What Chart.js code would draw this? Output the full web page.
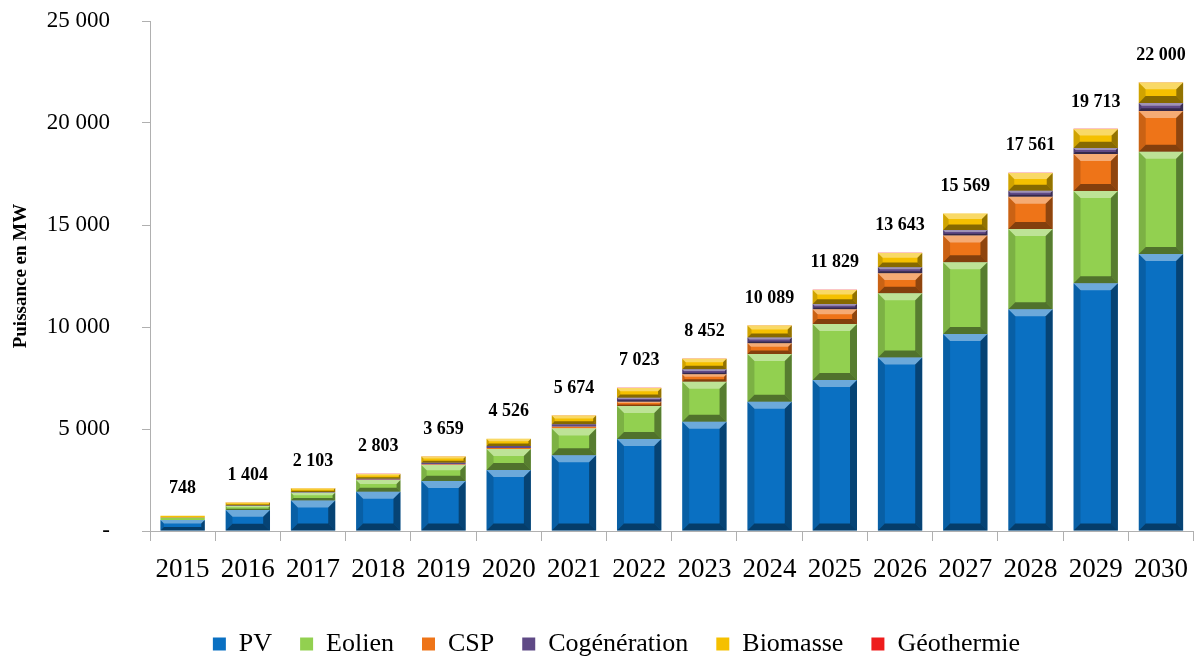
<!DOCTYPE html>
<html>
<head>
<meta charset="utf-8">
<script src="https://cdn.jsdelivr.net/npm/chart.js@4.4.0/dist/chart.umd.min.js"></script>
<style>
  html, body { margin: 0; padding: 0; background: #fff; }
  #wrap { width: 1201px; height: 657px; }
</style>
</head>
<body>
<div id="wrap"><canvas id="myChart" width="1201" height="657"></canvas></div>
<script>
const years = ['2015','2016','2017','2018','2019','2020','2021','2022','2023','2024','2025','2026','2027','2028','2029','2030'];
const pv      = [540, 1030, 1490, 1930, 2450, 2990, 3710, 4510, 5360, 6340, 7400, 8500, 9660, 10870, 12140, 13575];
const eolien  = [100, 200, 390, 570, 790, 1030, 1320, 1620, 1960, 2340, 2750, 3150, 3510, 3930, 4530, 5010];
const csp     = [0, 0, 0, 10, 20, 50, 80, 210, 360, 520, 720, 980, 1310, 1590, 1810, 2000];
const cogen   = [8, 15, 30, 50, 80, 100, 120, 190, 250, 280, 260, 300, 270, 290, 300, 400];
const biomasse = [95, 154, 188, 238, 314, 346, 434, 483, 512, 599, 689, 703, 809, 871, 918, 1000];
const geo     = [5, 5, 5, 5, 5, 10, 10, 10, 10, 10, 10, 10, 10, 10, 15, 15];
const totals  = [748, 1404, 2103, 2803, 3659, 4526, 5674, 7023, 8452, 10089, 11829, 13643, 15569, 17561, 19713, 22000];
const yTicks  = [0, 5000, 10000, 15000, 20000, 25000];

const serif = "'Liberation Serif', 'Times New Roman', serif";

function fmt(v){
  if (v === 0) return '-';
  return String(v).replace(/\B(?=(\d{3})+(?!\d))/g, ' ');
}

// fake the excel bevel look on every bar
const bevel = {
  id: 'bevel',
  afterDatasetsDraw(chart){
    const ctx = chart.ctx;
    chart.data.datasets.forEach((ds, di) => {
      const meta = chart.getDatasetMeta(di);
      if (meta.hidden) return;
      meta.data.forEach(bar => {
        const h = bar.base - bar.y;
        if (h < 3) return;
        const l = bar.x - bar.width/2, r = bar.x + bar.width/2, t = bar.y, b = bar.base;
        const s = Math.min(7, h/3);
        ctx.save();
        ctx.fillStyle = 'rgba(255,255,255,0.4)';
        ctx.beginPath(); ctx.moveTo(l,t); ctx.lineTo(r,t); ctx.lineTo(r-s,t+s); ctx.lineTo(l+s,t+s); ctx.closePath(); ctx.fill();
        ctx.fillStyle = 'rgba(0,0,0,0.15)';
        ctx.beginPath(); ctx.moveTo(l,t); ctx.lineTo(l+s,t+s); ctx.lineTo(l+s,b-s); ctx.lineTo(l,b); ctx.closePath(); ctx.fill();
        ctx.fillStyle = 'rgba(0,0,0,0.4)';
        ctx.beginPath(); ctx.moveTo(r,t); ctx.lineTo(r-s,t+s); ctx.lineTo(r-s,b-s); ctx.lineTo(r,b); ctx.closePath(); ctx.fill();
        ctx.fillStyle = 'rgba(0,0,0,0.45)';
        ctx.beginPath(); ctx.moveTo(l,b); ctx.lineTo(r,b); ctx.lineTo(r-s,b-s); ctx.lineTo(l+s,b-s); ctx.closePath(); ctx.fill();
        ctx.restore();
      });
    });
  }
};

const totalLabels = {
  id: 'totalLabels',
  afterDraw(chart){
    const ctx = chart.ctx;
    const xs = chart.scales.x, ys = chart.scales.y;
    ctx.save();
    ctx.font = 'bold 18px ' + serif;
    ctx.fillStyle = '#000';
    ctx.textAlign = 'center';
    ctx.textBaseline = 'middle';
    totals.forEach((t, i) => {
      ctx.fillText(fmt(t), xs.getPixelForValue(i), ys.getPixelForValue(t) - 27);
    });
    ctx.restore();
  }
};

const yTitle = {
  id: 'yTitle',
  afterDraw(chart){
    const ctx = chart.ctx;
    const ca = chart.chartArea;
    ctx.save();
    ctx.translate(21, (ca.top + ca.bottom)/2);
    ctx.rotate(-Math.PI/2);
    ctx.font = 'bold 19px ' + serif;
    ctx.fillStyle = '#000';
    ctx.textAlign = 'center';
    ctx.textBaseline = 'middle';
    ctx.fillText('Puissance en MW', 0, 0);
    ctx.restore();
  }
};

// nudge the legend row a little right, like the original
const legendShift = {
  id: 'legendShift',
  afterLayout(chart){
    if (chart.legend) { chart.legend.left += 17; chart.legend.right += 17; }
  }
};

function mk(label, data, color){
  return { label, data, backgroundColor: color, borderColor: color, borderWidth: 0,
           categoryPercentage: 1, barPercentage: 0.68 };
}

const ctx = document.getElementById('myChart').getContext('2d');
const myChart = new Chart(ctx, {
  type: 'bar',
  data: {
    labels: years,
    datasets: [
      mk('PV', pv, '#0a70c2'),
      mk('Eolien', eolien, '#92d050'),
      mk('CSP', csp, '#ee7418'),
      mk('Cogénération', cogen, '#5f4a86'),
      mk('Biomasse', biomasse, '#f5c000'),
      mk('Géothermie', geo, '#ee1c1c')
    ]
  },
  plugins: [bevel, totalLabels, yTitle, legendShift],
  options: {
    responsive: false,
    animation: false,
    layout: { padding: { top: 21, right: 2, left: 0, bottom: -10 } },
    plugins: {
      tooltip: { enabled: false },
      legend: {
        position: 'bottom',
        labels: {
          font: { family: serif, size: 26 },
          color: '#000',
          boxWidth: 13,
          boxHeight: 13,
          padding: 28
        }
      }
    },
    scales: {
      x: {
        stacked: true,
        grid: { drawOnChartArea: false, drawTicks: true, tickLength: 10, color: '#b0b0b0', offset: true },
        border: { color: '#b0b0b0' },
        ticks: { font: { family: serif, size: 27 }, color: '#000', padding: 13 },
        afterFit(scale){ scale.height = 72; }
      },
      y: {
        stacked: true,
        min: 0,
        max: 25000,
        afterBuildTicks(scale){ scale.ticks = yTicks.map(v => ({ value: v })); },
        grid: { drawOnChartArea: false, drawTicks: true, tickLength: 8, color: '#b0b0b0' },
        border: { color: '#b0b0b0' },
        ticks: { font: { family: serif, size: 23 }, color: '#000', padding: 32, callback: v => fmt(v) },
        afterFit(scale){ scale.width = 150; scale.paddingTop = 0; scale.paddingBottom = 0; }
      }
    }
  }
});
</script>
</body>
</html>
